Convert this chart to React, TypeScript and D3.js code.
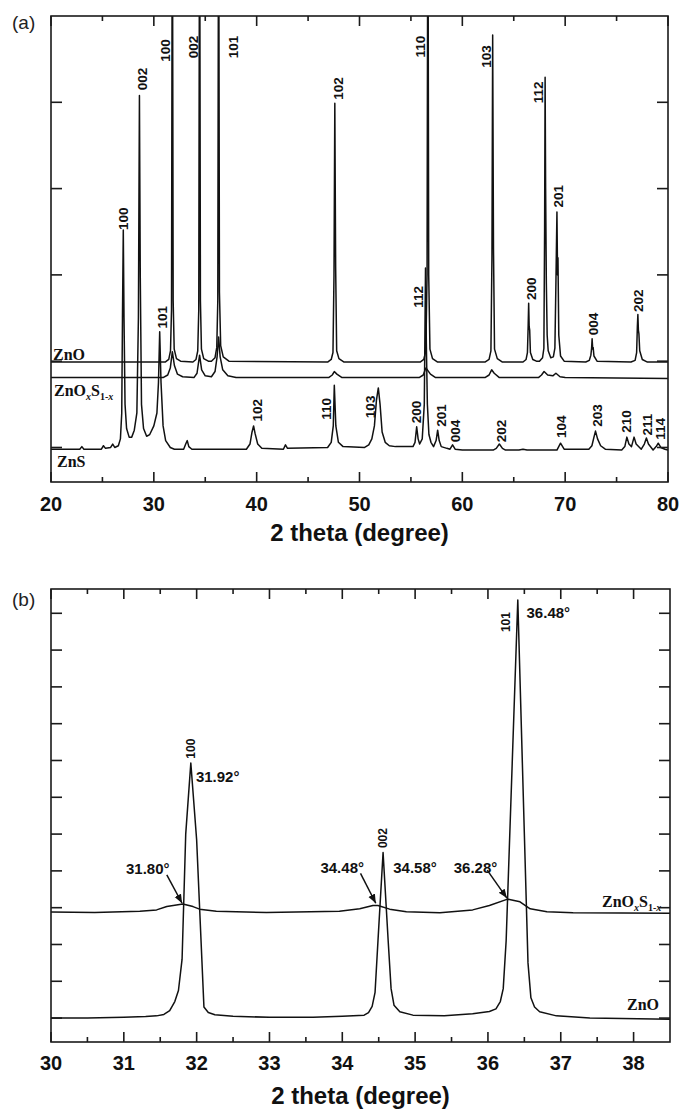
import React from "react";
import * as d3 from "d3";

type Pt = [number, number];

// ---- panel (a): full scans, 2 theta vs intensity (a.u.) ----
const znoA: Pt[] = [
  [20, 199], [31.1, 199], [31.45, 202], [31.62, 212], [31.72, 260], [31.8, 800], [31.88, 270], [31.98, 214], [32.2, 203], [32.6, 200],
  [33.8, 199], [34.1, 202], [34.27, 212], [34.37, 260], [34.45, 800], [34.53, 270], [34.63, 214], [34.85, 203], [35.3, 200],
  [35.6, 200], [35.95, 204], [36.12, 216], [36.22, 270], [36.3, 800], [36.38, 280], [36.5, 218], [36.75, 205], [37.3, 200],
  [46.9, 199], [47.25, 202], [47.42, 210], [47.52, 300], [47.6, 499], [47.68, 310], [47.78, 212], [48.0, 203], [48.5, 199],
  [55.9, 199], [56.25, 202], [56.45, 212], [56.57, 300], [56.65, 800], [56.73, 300], [56.85, 214], [57.1, 203], [57.6, 199],
  [62.2, 199], [62.6, 202], [62.78, 212], [62.88, 320], [62.95, 578], [63.03, 330], [63.13, 214], [63.4, 203], [63.9, 199],
  [65.9, 199], [66.2, 202], [66.33, 210], [66.4, 240], [66.45, 267], [66.5, 240], [66.55, 236], [66.62, 210], [66.85, 202], [67.2, 200],
  [67.5, 200], [67.8, 204], [67.93, 215], [68.0, 350], [68.05, 529], [68.1, 400], [68.17, 290], [68.25, 230], [68.35, 212], [68.6, 204],
  [68.85, 205], [69.0, 215], [69.1, 290], [69.2, 373], [69.26, 300], [69.3, 320], [69.38, 230], [69.55, 206], [69.9, 200],
  [72.0, 199], [72.35, 201], [72.5, 207], [72.57, 215], [72.62, 226], [72.68, 214], [72.72, 216], [72.8, 206], [73.1, 200],
  [76.4, 199], [76.8, 201], [76.95, 210], [77.02, 240], [77.07, 254], [77.12, 236], [77.17, 232], [77.25, 212], [77.5, 202], [78, 199],
  [80, 199],
];

const znosA: Pt[] = [
  [20, 181], [30.9, 181], [31.35, 184], [31.6, 192], [31.8, 211], [32.0, 195], [32.3, 185], [32.8, 182],
  [33.9, 181], [34.2, 186], [34.45, 207], [34.65, 190], [35.0, 183], [35.6, 182], [35.95, 188], [36.15, 205],
  [36.3, 228], [36.45, 205], [36.7, 190], [37.2, 183], [38, 181],
  [47.0, 181], [47.35, 184], [47.55, 188], [47.8, 185], [48.3, 181],
  [55.8, 181], [56.2, 184], [56.45, 192], [56.6, 190], [56.9, 185], [57.4, 181],
  [62.2, 181], [62.6, 184], [62.85, 190], [63.1, 186], [63.6, 181],
  [67.4, 181], [67.7, 184], [67.95, 188], [68.3, 184], [68.8, 183], [69.1, 186], [69.5, 182], [70, 181], [80, 180],
];

const znsA: Pt[] = [
  [20, 98], [22.8, 98], [23.0, 101], [23.2, 98], [24.9, 98], [25.1, 102], [25.3, 99], [25.8, 100], [26.0, 104], [26.2, 100],
  [26.55, 102], [26.75, 110], [26.88, 140], [26.95, 250], [27.03, 352], [27.1, 250], [27.2, 150], [27.35, 122], [27.6, 112],
  [27.85, 112], [28.1, 120], [28.35, 140], [28.5, 250], [28.6, 508], [28.68, 300], [28.8, 150], [29.0, 122], [29.3, 113],
  [29.6, 115], [30.0, 125], [30.3, 140], [30.45, 175], [30.57, 234], [30.7, 175], [30.9, 125], [31.15, 108], [31.6, 100],
  [32.0, 98], [32.9, 98], [33.1, 104], [33.25, 108], [33.4, 101], [33.7, 98],
  [39.0, 98], [39.35, 104], [39.55, 118], [39.7, 125], [39.85, 116], [40.1, 104], [40.5, 99],
  [42.6, 98], [42.8, 103], [43.0, 99],
  [46.9, 100], [47.25, 106], [47.45, 125], [47.55, 172], [47.7, 125], [47.95, 106], [48.4, 101],
  [50.5, 100], [50.9, 103], [51.2, 110], [51.45, 125], [51.65, 155], [51.83, 169], [52.0, 150], [52.2, 118], [52.5, 106],
  [52.9, 102], [53.5, 101],
  [55.2, 101], [55.4, 106], [55.56, 124], [55.7, 110], [55.85, 104], [56.1, 110], [56.3, 150], [56.42, 308], [56.5, 220],
  [56.6, 150], [56.75, 115], [56.95, 106], [57.2, 101], [57.45, 108], [57.6, 120], [57.75, 108], [57.95, 101], [58.5, 99],
  [58.8, 98], [59.05, 103], [59.3, 98], [60, 97],
  [63.0, 97], [63.3, 99], [63.6, 104], [63.9, 99], [64.2, 97], [65.5, 97], [65.9, 98], [66.3, 97],
  [69.2, 97], [69.55, 105], [69.9, 98],
  [72.3, 98], [72.6, 102], [72.8, 112], [72.95, 119], [73.15, 110], [73.45, 102], [73.9, 98],
  [75.5, 97], [75.8, 101], [76.0, 112], [76.2, 104], [76.45, 101], [76.7, 112], [76.9, 104], [77.4, 98], [77.7, 104],
  [77.9, 111], [78.1, 104], [78.55, 97], [78.85, 101], [79.05, 105], [79.3, 100], [79.7, 98], [80, 97],
];

// hkl labels [text, 2theta, intensity at label foot]
const hklZnO: [string, number, number][] = [
  ["100", 31.05, 547], ["002", 33.85, 551], ["101", 37.7, 551], ["102", 47.9, 503], ["110", 55.85, 552],
  ["103", 62.3, 540], ["112", 67.36, 499], ["201", 69.3, 378], ["200", 66.68, 271], ["004", 72.7, 230], ["202", 77.1, 257],
];
const hklZnS: [string, number, number][] = [
  ["100", 27.0, 352], ["002", 28.85, 514], ["101", 30.8, 238], ["102", 40.03, 130], ["110", 46.74, 132],
  ["112", 55.69, 262], ["103", 51.02, 134], ["200", 55.5, 128], ["201", 57.93, 124], ["004", 59.29, 106],
  ["202", 63.76, 106], ["104", 69.6, 111], ["203", 73.1, 124], ["210", 75.92, 117], ["211", 77.96, 114], ["114", 79.22, 109],
];

const xTicksA = [20, 30, 40, 50, 60, 70, 80];
const xMinorA = [25, 35, 45, 55, 65, 75];
const yTicksA = [100, 200, 300, 400, 500];

// ---- panel (b): zoom on 30-38.5 ----
const znoB: Pt[] = [
  [30, 1.0], [30.5, 1.0], [31.0, 1.02], [31.3, 1.04], [31.45, 1.06], [31.55, 1.1], [31.63, 1.2], [31.7, 1.45],
  [31.75, 1.75], [31.8, 2.6], [31.85, 6.0], [31.92, 7.93], [32.0, 5.84], [32.1, 1.3], [32.16, 1.15], [32.25, 1.09],
  [32.5, 1.05], [33.0, 1.02], [33.6, 1.02], [34.0, 1.05], [34.3, 1.08], [34.36, 1.15], [34.41, 1.32], [34.45, 1.7],
  [34.49, 3.1], [34.56, 5.5], [34.63, 3.1], [34.67, 1.8], [34.71, 1.35], [34.79, 1.17], [34.97, 1.08], [35.4, 1.06],
  [35.79, 1.12], [36.02, 1.18], [36.11, 1.25], [36.17, 1.45], [36.21, 1.8], [36.25, 3.1], [36.3, 6.0], [36.41, 12.36],
  [36.5, 6.0], [36.55, 2.5], [36.59, 1.55], [36.64, 1.3], [36.71, 1.17], [36.94, 1.06], [37.4, 1.0], [38.5, 0.97],
];
const znosB: Pt[] = [
  [30, 3.88], [30.6, 3.87], [31.22, 3.9], [31.45, 3.94], [31.59, 4.03], [31.81, 4.1], [31.95, 4.03], [32.04, 3.96],
  [32.27, 3.9], [32.96, 3.87], [33.96, 3.9], [34.24, 3.97], [34.42, 4.06], [34.49, 4.06], [34.65, 3.96], [34.88, 3.89],
  [35.34, 3.86], [35.79, 3.94], [36.02, 4.06], [36.25, 4.22], [36.28, 4.23], [36.44, 4.16], [36.58, 3.97], [36.81, 3.89],
  [37.17, 3.86], [38.5, 3.85],
];
const hklB: [string, number, number][] = [["100", 31.92, 8.05], ["002", 34.56, 5.62], ["101", 36.24, 11.49]];
// peak position notes [text, 2theta, intensity at text baseline-left]
const peakNotes: [string, number, number][] = [
  ["31.92°", 31.99, 7.42], ["36.48°", 36.53, 11.87], ["34.58°", 34.7, 4.95], ["36.28°", 35.53, 4.95],
  ["34.48°", 33.7, 4.95], ["31.80°", 31.03, 4.92],
];
// arrows [from 2theta, from I, to 2theta, to I]
const arrows: [number, number, number, number][] = [
  [31.59, 4.89, 31.8, 4.12], [34.25, 4.93, 34.46, 4.12], [35.99, 5.02, 36.26, 4.26],
];
const xTicksB = [30, 31, 32, 33, 34, 35, 36, 37, 38];
const xMinorB = [30.5, 31.5, 32.5, 33.5, 34.5, 35.5, 36.5, 37.5];
const yTicksB = [1, 2, 3, 4, 5, 6, 7, 8, 9, 10, 11, 12];

const A = { left: 51, right: 668, top: 16, bottom: 482 };
const B = { left: 51, right: 670, top: 589, bottom: 1042 };

const xA = d3.scaleLinear().domain([20, 80]).range([A.left, A.right]);
const yA = d3.scaleLinear().domain([60, 600]).range([A.bottom, A.top]);
const xB = d3.scaleLinear().domain([30, 38.5]).range([B.left, B.right]);
const yB = d3.scaleLinear().domain([0.35, 12.66]).range([B.bottom, B.top]);

const sans = "'Liberation Sans', Arial, sans-serif";
const serif = "'Liberation Serif', 'Times New Roman', serif";

function Frame(props: any) {
  const { box, x, y, major, minor, yt } = props;
  const out: any[] = [];
  major.forEach((t: number, i: number) => {
    const px = x(t);
    out.push(<line key={"b" + i} x1={px} x2={px} y1={box.bottom} y2={box.bottom - 10} />);
    out.push(<line key={"t" + i} x1={px} x2={px} y1={box.top} y2={box.top + 10} />);
  });
  minor.forEach((t: number, i: number) => {
    const px = x(t);
    out.push(<line key={"mb" + i} x1={px} x2={px} y1={box.bottom} y2={box.bottom - 5} />);
    out.push(<line key={"mt" + i} x1={px} x2={px} y1={box.top} y2={box.top + 5} />);
  });
  yt.forEach((t: number, i: number) => {
    const py = y(t);
    out.push(<line key={"l" + i} x1={box.left} x2={box.left + 11} y1={py} y2={py} />);
    out.push(<line key={"r" + i} x1={box.right} x2={box.right - 11} y1={py} y2={py} />);
  });
  return (
    <g stroke="#1a1a1a" strokeWidth={1.6} fill="none">
      <rect x={box.left} y={box.top} width={box.right - box.left} height={box.bottom - box.top} />
      {out}
    </g>
  );
}

function VLabel({ x, y, text, size }: any) {
  return (
    <text transform={`translate(${x},${y}) rotate(-90)`} dy="0.36em" fontFamily={sans} fontWeight="bold" fontSize={size} fill="#111">
      {text}
    </text>
  );
}

function Alloy({ x, y }: any) {
  return (
    <text x={x} y={y} fontFamily={serif} fontWeight="bold" fontSize={16} fill="#111">
      ZnO<tspan fontSize={10} fontStyle="italic" dy={4}>x</tspan>
      <tspan dy={-4}>S</tspan>
      <tspan fontSize={10} dy={4}>1-</tspan>
      <tspan fontSize={10} fontStyle="italic">x</tspan>
    </text>
  );
}

export default function App() {
  const lineA = d3.line<Pt>().x((d) => xA(d[0])).y((d) => yA(d[1]));
  const lineB = d3.line<Pt>().x((d) => xB(d[0])).y((d) => yB(d[1]));
  return (
    <svg width={681} height={1109} style={{ position: "absolute", left: 0, top: 0, background: "#fff" }}>
      <defs>
        <clipPath id="clipA">
          <rect x={A.left} y={A.top} width={A.right - A.left} height={A.bottom - A.top} />
        </clipPath>
        <marker id="arr" viewBox="0 0 10 10" refX={10} refY={5} markerWidth={9} markerHeight={9} orient="auto" markerUnits="userSpaceOnUse">
          <path d="M0,1 L10,5 L0,9 Z" fill="#111" />
        </marker>
      </defs>
      <rect width={681} height={1109} fill="#fff" />

      {/* panel (a) */}
      <text x={12} y={29} fontFamily={sans} fontSize={19} fill="#222">(a)</text>
      <g clipPath="url(#clipA)" fill="none" stroke="#111" strokeWidth={1.5} strokeLinejoin="round">
        <path d={lineA(znsA) || ""} />
        <path d={lineA(znosA) || ""} />
        <path d={lineA(znoA) || ""} />
      </g>
      <Frame box={A} x={xA} y={yA} major={xTicksA} minor={xMinorA} yt={yTicksA} />
      {hklZnO.map((d, i) => <VLabel key={"zo" + i} x={xA(d[1])} y={yA(d[2])} text={d[0]} size={13.5} />)}
      {hklZnS.map((d, i) => <VLabel key={"zs" + i} x={xA(d[1])} y={yA(d[2])} text={d[0]} size={13.5} />)}
      <text x={53} y={360} fontFamily={serif} fontWeight="bold" fontSize={16} fill="#111">ZnO</text>
      <Alloy x={54} y={396} />
      <text x={57} y={467} fontFamily={serif} fontWeight="bold" fontSize={16} fill="#111">ZnS</text>
      {xTicksA.map((t) => (
        <text key={"xa" + t} x={xA(t)} y={511} textAnchor="middle" fontFamily={sans} fontWeight="bold" fontSize={20} fill="#111">{t}</text>
      ))}
      <text x={(A.left + A.right) / 2} y={541} textAnchor="middle" fontFamily={sans} fontWeight="bold" fontSize={24} fill="#111">2 theta (degree)</text>

      {/* panel (b) */}
      <text x={12} y={606} fontFamily={sans} fontSize={19} fill="#222">(b)</text>
      <g fill="none" stroke="#111" strokeWidth={1.5} strokeLinejoin="round">
        <path d={lineB(znosB) || ""} />
        <path d={lineB(znoB) || ""} />
      </g>
      <Frame box={B} x={xB} y={yB} major={xTicksB} minor={xMinorB} yt={yTicksB} />
      {hklB.map((d, i) => <VLabel key={"hb" + i} x={xB(d[1])} y={yB(d[2])} text={d[0]} size={12} />)}
      {peakNotes.map((d, i) => (
        <text key={"pn" + i} x={xB(d[1])} y={yB(d[2])} fontFamily={sans} fontWeight="bold" fontSize={15} fill="#111">{d[0]}</text>
      ))}
      {arrows.map((a, i) => (
        <line key={"ar" + i} x1={xB(a[0])} y1={yB(a[1])} x2={xB(a[2])} y2={yB(a[3])} stroke="#111" strokeWidth={1.5} markerEnd="url(#arr)" />
      ))}
      <Alloy x={602} y={907} />
      <text x={627} y={1010} fontFamily={serif} fontWeight="bold" fontSize={16} fill="#111">ZnO</text>
      {xTicksB.map((t) => (
        <text key={"xb" + t} x={xB(t)} y={1070} textAnchor="middle" fontFamily={sans} fontWeight="bold" fontSize={20} fill="#111">{t}</text>
      ))}
      <text x={(B.left + B.right) / 2} y={1104} textAnchor="middle" fontFamily={sans} fontWeight="bold" fontSize={24} fill="#111">2 theta (degree)</text>
    </svg>
  );
}
